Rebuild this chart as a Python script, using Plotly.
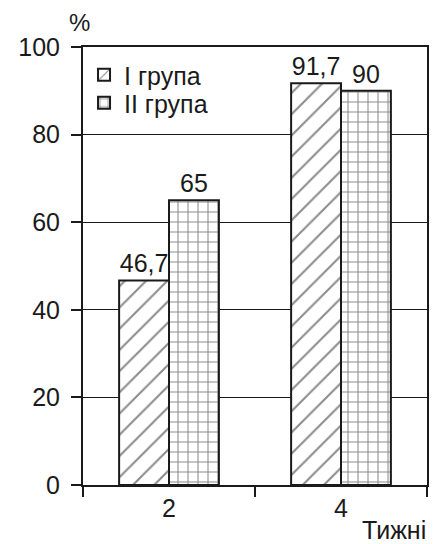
import plotly.graph_objects as go

weeks = ["2", "4"]
group1 = [46.7, 91.7]
group2 = [65, 90]
names = ["I група", "II група"]
y_ticks = [0, 20, 40, 60, 80, 100]

def fmt(v):
    return f"{v:g}".replace(".", ",")

FONT = "Liberation Sans, Arial, sans-serif"
INK = "#1a1a1a"

fig = go.Figure()
fig.add_trace(go.Bar(
    x=weeks, y=group1, name=names[0], legend="legend",
    text=[fmt(v) for v in group1], textposition="outside", cliponaxis=False,
    textfont=dict(size=25, color=INK),
    marker=dict(color="white", line=dict(color=INK, width=2),
                pattern=dict(shape="/", fgcolor=INK, bgcolor="white", size=15, solidity=0.14)),
))
fig.add_trace(go.Bar(
    x=weeks, y=group2, name=names[1], legend="legend2",
    text=[fmt(v) for v in group2], textposition="outside", cliponaxis=False,
    textfont=dict(size=25, color=INK),
    marker=dict(color="white", line=dict(color=INK, width=2),
                pattern=dict(shape="+", fgcolor=INK, bgcolor="white", size=10, solidity=0.2)),
))

leg_common = dict(xanchor="left", yanchor="middle", bgcolor="rgba(0,0,0,0)",
                  font=dict(size=25, color=INK), itemwidth=30)

fig.update_layout(
    width=431, height=536,
    margin=dict(l=70, r=10, t=39, b=59),
    paper_bgcolor="white", plot_bgcolor="white",
    font=dict(family=FONT, size=25, color=INK),
    barmode="group", bargap=0.42, bargroupgap=0,
    showlegend=True,
    legend=dict(x=0.003, y=0.936, **leg_common),
    legend2=dict(x=0.003, y=0.872, **leg_common),
    xaxis=dict(type="category", tickson="boundaries", ticks="outside", ticklen=10,
               tickwidth=1.5, tickcolor=INK,
               showline=True, linecolor=INK, linewidth=2, mirror=True,
               showgrid=False, tickfont=dict(size=25)),
    yaxis=dict(range=[0, 100], tickvals=y_ticks, ticks="outside", ticklen=10,
               tickwidth=1.5, tickcolor=INK, ticklabelstandoff=6,
               showline=True, linecolor=INK, linewidth=2, mirror=True,
               showgrid=True, gridcolor=INK, gridwidth=1,
               zeroline=False, tickfont=dict(size=25)),
    annotations=[
        dict(text="%", xref="paper", yref="paper", x=0, y=1.0, xshift=-4, yshift=25,
             xanchor="center", yanchor="middle", showarrow=False, font=dict(size=24)),
        dict(text="Тижні", xref="paper", yref="paper", x=1.0, y=0, xshift=1, yshift=-45,
             xanchor="right", yanchor="middle", showarrow=False, font=dict(size=25)),
    ],
)

fig.write_html("out.html")
